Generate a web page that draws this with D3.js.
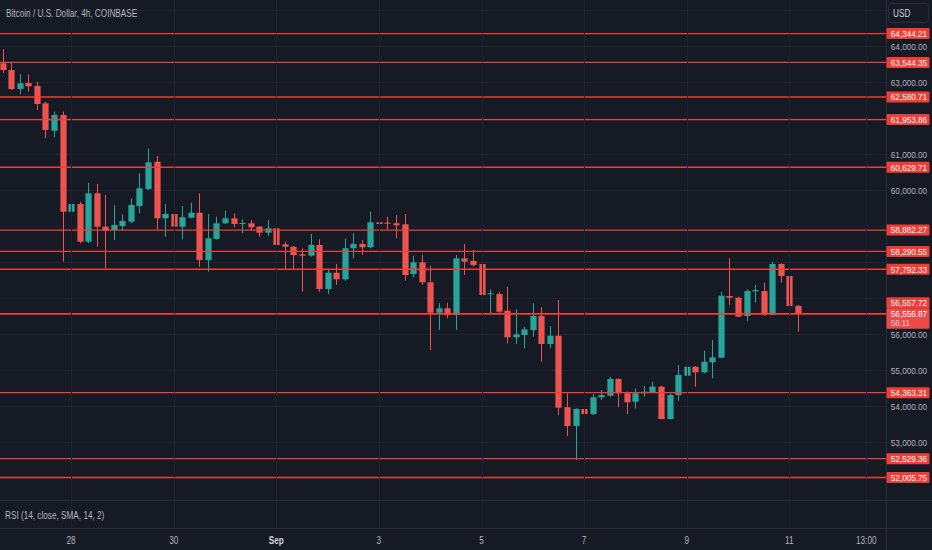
<!DOCTYPE html>
<html>
<head>
<meta charset="utf-8">
<script src="https://cdn.jsdelivr.net/npm/d3@7"></script>
<style>
  html, body { margin: 0; padding: 0; background: #161a25; overflow: hidden; }
  svg { display: block; font-family: "Liberation Sans", Arial, sans-serif; }
</style>
</head>
<body>
<svg id="chart"></svg>
<script>
'use strict';

// 4h candles, first bar opens 26 Aug 2024 16:00
var startTime = Date.UTC(2024, 7, 26, 16);
var barHours = 4;

var opens = [63519, 63333, 62805, 62971, 62888, 62407, 61645, 62082, 59393, 59608,
  58560, 59905, 58977, 58885, 58996, 59116, 59552, 60025, 60783, 59210,
  59330, 58977, 59227, 59366, 58051, 58635, 59071, 59210, 59052, 59071,
  58977, 58810, 58932, 58487, 58421, 58209, 58171, 58468, 57245, 57698,
  57514, 58376, 58496, 58404, 59099, 59090, 59071, 59043, 57662, 57987,
  57431, 56586, 56708, 56522, 58098, 58023, 57940, 57106, 57106, 56642,
  55902, 55966, 56105, 56494, 55716, 55946, 53956, 53436, 53909, 53770,
  54234, 54278, 54743, 54345, 54111, 54345, 54373, 54530, 53631, 54298,
  54835, 55085, 54929, 55207, 55335, 57050, 57003, 56494, 57181, 57189,
  56522, 57940, 57606, 56772];
var highs = [63917, 63564, 63213, 63213, 63008, 62452, 62174, 62174, 59635, 59672,
  60200, 60164, 59858, 59580, 59321, 59766, 60461, 61156, 60942, 59608,
  59460, 59552, 59644, 59905, 59330, 59255, 59421, 59349, 59182, 59163,
  58996, 59163, 58960, 58560, 58440, 58376, 58774, 58626, 57773, 57940,
  58654, 58793, 58607, 59393, 59810, 59255, 59302, 59330, 58171, 58190,
  57884, 56847, 56864, 58190, 58496, 58329, 58282, 57236, 57170, 57308,
  56680, 56198, 56847, 56736, 56216, 56939, 54345, 53928, 54067, 54326,
  54437, 54807, 54762, 54390, 54484, 54548, 54668, 54548, 54345, 55132,
  55346, 55104, 55529, 55827, 57170, 58098, 57031, 57236, 57356, 57420,
  58004, 57959, 57698, 56800];
var lows = [63249, 62777, 62657, 62729, 62221, 61434, 61462, 58004, 58932, 58515,
  58515, 58421, 57820, 58607, 58857, 59071, 59349, 59997, 58885, 58699,
  58885, 58635, 59210, 57865, 57726, 58620, 59052, 58960, 58793, 58865,
  58699, 58719, 58282, 57773, 57773, 57170, 58143, 57170, 57106, 57356,
  57475, 58098, 58190, 58376, 58977, 58885, 58654, 57475, 57570, 57356,
  55549, 56105, 56430, 56105, 57634, 57865, 56864, 56569, 56586, 55735,
  55716, 55596, 55920, 55224, 55596, 53742, 53158, 52491, 53678, 53742,
  54159, 54250, 53956, 53770, 53928, 54250, 54345, 53622, 53622, 54139,
  54668, 54529, 54901, 54762, 55318, 56799, 56458, 56355, 56864, 56503,
  56510, 57420, 56614, 56058];
var closes = [63333, 62805, 62963, 62880, 62388, 61665, 62082, 59393, 59608, 58560,
  59905, 58977, 58857, 59024, 59135, 59580, 60044, 60767, 59210, 59330,
  58977, 59239, 59366, 58051, 58654, 59071, 59210, 59052, 59079, 58960,
  58810, 58932, 58468, 58421, 58190, 58171, 58468, 57245, 57698, 57514,
  58376, 58496, 58404, 59099, 59052, 59060, 59015, 57634, 57987, 57431,
  56586, 56708, 56522, 58098, 58004, 57912, 57078, 57125, 56614, 55902,
  55985, 56124, 56494, 55716, 55946, 53945, 53436, 53909, 53770, 54234,
  54298, 54743, 54345, 54095, 54345, 54390, 54530, 53631, 54298, 54854,
  55085, 54929, 55224, 55346, 57058, 57003, 56475, 57189, 57217, 56522,
  57940, 57606, 56772, 56556.87];

// horizontal levels drawn on the chart
var levels = [64344.21, 63544.35, 62580.71, 61953.86, 60629.71, 58882.27,
  58290.55, 57792.33, 56557.72, 54363.31, 52529.36, 52005.75];
var countdown = '56:11';

var priceTicks = [53000, 54000, 55000, 56000, 57000, 58000, 59000, 60000, 61000, 62000, 63000, 64000];
var gridPrices = [52000, 53000, 54000, 55000, 56000, 57000, 58000, 59000, 60000, 61000, 62000, 63000, 64000, 65000];

var timeTicks = [Date.UTC(2024, 7, 28), Date.UTC(2024, 7, 30), Date.UTC(2024, 8, 1),
  Date.UTC(2024, 8, 3), Date.UTC(2024, 8, 5), Date.UTC(2024, 8, 7),
  Date.UTC(2024, 8, 9), Date.UTC(2024, 8, 11), Date.UTC(2024, 8, 12, 12)];
var timeLabels = ['28', '30', 'Sep', '3', '5', '7', '9', '11', '13:00'];

var title = 'Bitcoin / U.S. Dollar, 4h, COINBASE';
var rsiTitle = 'RSI (14, close, SMA, 14, 2)';

// layout
var canvasWidth = 932;
var canvasHeight = 550;
var plotRight = 886;
var priceBottom = 500;
var axisTop = 528;

var upColor = '#26a69a';
var downColor = '#ef5350';
var levelColor = '#f23c36';
var textColor = '#b2b5be';
var gridColor = '#1f2330';
var sepColor = '#2a2e39';

// squeeze text horizontally, the screenshot uses a narrow font
function condense(sel, factor) {
  sel.each(function() {
    var w = this.getComputedTextLength();
    if (w > 0) {
      d3.select(this)
        .attr('textLength', w * (factor || 0.82))
        .attr('lengthAdjust', 'spacingAndGlyphs');
    }
  });
}

var svg = d3.select('#chart')
  .attr('width', canvasWidth)
  .attr('height', canvasHeight);

svg.append('rect')
  .attr('width', canvasWidth)
  .attr('height', canvasHeight)
  .attr('fill', '#161a25');

var candles = opens.map(function(o, i) {
  return {
    t: new Date(startTime + i * barHours * 3600 * 1000),
    o: o, h: highs[i], l: lows[i], c: closes[i]
  };
});

var xScale = d3.scaleTime()
  .domain([new Date(startTime), new Date(Date.UTC(2024, 8, 11))])
  .range([2.7, 789.3]);
var yScale = d3.scaleLinear()
  .domain([53000, 64000])
  .range([441.7, 46]);

var bodyWidth = 6.2;

svg.append('clipPath').attr('id', 'plotClip')
  .append('rect')
  .attr('width', plotRight)
  .attr('height', priceBottom);

var plot = svg.append('g').attr('clip-path', 'url(#plotClip)');

// grid
plot.selectAll('line.hgrid').data(gridPrices).enter().append('line')
  .attr('class', 'hgrid')
  .attr('x1', 0).attr('x2', plotRight)
  .attr('y1', function(d) { return Math.round(yScale(d)) + 0.5; })
  .attr('y2', function(d) { return Math.round(yScale(d)) + 0.5; })
  .attr('stroke', gridColor);

svg.selectAll('line.vgrid').data(timeTicks).enter().append('line')
  .attr('class', 'vgrid')
  .attr('x1', function(d) { return Math.round(xScale(new Date(d))) + 0.5; })
  .attr('x2', function(d) { return Math.round(xScale(new Date(d))) + 0.5; })
  .attr('y1', 0).attr('y2', axisTop)
  .attr('stroke', gridColor);

// candles
var bars = plot.selectAll('g.candle').data(candles).enter().append('g')
  .attr('class', 'candle');

bars.append('line')
  .attr('x1', function(d) { return Math.round(xScale(d.t)) + 0.5; })
  .attr('x2', function(d) { return Math.round(xScale(d.t)) + 0.5; })
  .attr('y1', function(d) { return yScale(d.h); })
  .attr('y2', function(d) { return yScale(d.l); })
  .attr('stroke', function(d) { return d.c >= d.o ? upColor : downColor; })
  .attr('stroke-width', 1);

bars.append('rect')
  .attr('x', function(d) { return Math.round(xScale(d.t)) + 0.5 - bodyWidth / 2; })
  .attr('width', bodyWidth)
  .attr('y', function(d) { return yScale(Math.max(d.o, d.c)); })
  .attr('height', function(d) { return Math.max(1, Math.abs(yScale(d.o) - yScale(d.c))); })
  .attr('fill', function(d) { return d.c >= d.o ? upColor : downColor; });

// level lines
var lastPrice = closes[closes.length - 1];
plot.selectAll('line.level').data(levels.concat([lastPrice])).enter().append('line')
  .attr('class', 'level')
  .attr('x1', 0).attr('x2', plotRight)
  .attr('y1', function(d) { return yScale(d); })
  .attr('y2', function(d) { return yScale(d); })
  .attr('stroke', levelColor)
  .attr('stroke-width', 1.4);

// separators
svg.append('line')
  .attr('x1', plotRight + 0.5).attr('x2', plotRight + 0.5)
  .attr('y1', 0).attr('y2', canvasHeight)
  .attr('stroke', sepColor);
[priceBottom, axisTop].forEach(function(y) {
  svg.append('line')
    .attr('x1', 0).attr('x2', canvasWidth)
    .attr('y1', y + 0.5).attr('y2', y + 0.5)
    .attr('stroke', sepColor);
});

// level labels; the last price label stays put and others move aside
var labelH = 11;
var lastY = yScale(lastPrice);
var labels = levels.map(function(v) {
  var y = yScale(v);
  if (Math.abs(y - lastY) < labelH) {
    y = v >= lastPrice ? lastY - labelH : lastY + labelH;
  }
  return { v: v, y: y };
});

// price axis ticks, hidden where a level label sits on top of them
var axisX = 909;
var axisFont = 9.5;
var visibleTicks = priceTicks.filter(function(p) {
  var y = yScale(p);
  return !labels.some(function(l) { return Math.abs(l.y - y) < labelH - 2; }) &&
    !(y > lastY - labelH / 2 - 2 && y < lastY + labelH * 1.5 + 3);
});
svg.selectAll('text.ptick').data(visibleTicks).enter().append('text')
  .attr('class', 'ptick')
  .attr('x', axisX)
  .attr('y', function(d) { return yScale(d) + 1; })
  .attr('dy', '0.35em')
  .attr('text-anchor', 'middle')
  .attr('font-size', axisFont)
  .attr('fill', textColor)
  .text(function(d) { return d3.format(',.2f')(d); })
  .call(condense, 0.86);

var lab = svg.selectAll('g.label').data(labels).enter().append('g')
  .attr('class', 'label');
lab.append('rect')
  .attr('x', plotRight + 0.5)
  .attr('y', function(d) { return d.y - labelH / 2; })
  .attr('width', 43)
  .attr('height', labelH)
  .attr('rx', 1)
  .attr('fill', levelColor);
lab.append('text')
  .attr('x', axisX)
  .attr('y', function(d) { return d.y; })
  .attr('dy', '0.35em')
  .attr('text-anchor', 'middle')
  .attr('font-size', axisFont)
  .attr('fill', '#ffffff')
  .text(function(d) { return d3.format(',.2f')(d.v); })
  .call(condense, 0.86);

// last price with countdown underneath
var countY = lastY + labelH - 1.5;
svg.append('rect')
  .attr('x', plotRight + 0.5)
  .attr('y', lastY - labelH / 2)
  .attr('width', 43)
  .attr('height', labelH * 2 - 1.5)
  .attr('rx', 1)
  .attr('fill', '#f04848');
svg.append('text')
  .attr('x', axisX).attr('y', lastY).attr('dy', '0.35em')
  .attr('text-anchor', 'middle')
  .attr('font-size', axisFont)
  .attr('fill', '#ffffff')
  .text(d3.format(',.2f')(lastPrice))
  .call(condense, 0.86);
svg.append('text')
  .attr('x', 891).attr('y', countY).attr('dy', '0.35em')
  .attr('font-size', 9)
  .attr('fill', '#ffd0d0')
  .text(countdown)
  .call(condense, 0.86);

// currency box
svg.append('rect')
  .attr('x', 888.5).attr('y', 3.5)
  .attr('width', 40).attr('height', 19)
  .attr('rx', 3)
  .attr('fill', '#161a25')
  .attr('stroke', sepColor);
svg.append('text')
  .attr('x', 893).attr('y', 13).attr('dy', '0.35em')
  .attr('font-size', 10)
  .attr('fill', '#d1d4dc')
  .text('USD')
  .call(condense);

// time axis
svg.selectAll('text.ttick').data(timeTicks).enter().append('text')
  .attr('class', 'ttick')
  .attr('x', function(d) { return xScale(new Date(d)); })
  .attr('y', 540)
  .attr('dy', '0.35em')
  .attr('text-anchor', 'middle')
  .attr('font-size', 10)
  .attr('font-weight', function(d, i) { return timeLabels[i] === 'Sep' ? 'bold' : 'normal'; })
  .attr('fill', function(d, i) { return timeLabels[i] === 'Sep' ? '#d1d4dc' : textColor; })
  .text(function(d, i) { return timeLabels[i]; })
  .call(condense);

// titles
svg.append('text')
  .attr('x', 6).attr('y', 13).attr('dy', '0.35em')
  .attr('font-size', 10)
  .attr('fill', textColor)
  .text(title)
  .call(condense);
svg.append('text')
  .attr('x', 5).attr('y', 515).attr('dy', '0.35em')
  .attr('font-size', 10)
  .attr('fill', textColor)
  .text(rsiTitle)
  .call(condense);
</script>
</body>
</html>
